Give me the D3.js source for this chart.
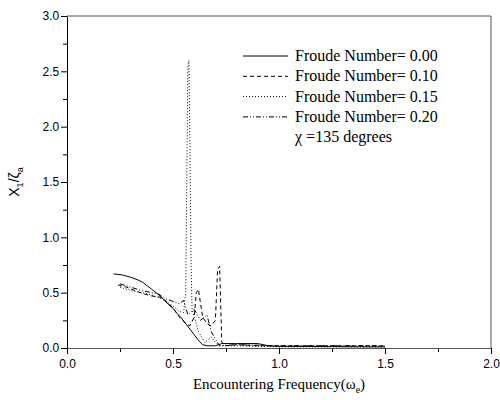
<!DOCTYPE html>
<html>
<head>
<meta charset="utf-8">
<script src="https://cdn.jsdelivr.net/npm/d3@7"></script>
<style>
  body { margin: 0; background: #fff; }
  text { fill: #000; }
</style>
</head>
<body>
<div id="chart"></div>
<script>
// Froude number series: [frequency, X1/zeta_a]
const fn000 = [[0.22,0.67],[0.26,0.66],[0.30,0.64],[0.34,0.61],[0.36,0.59],[0.38,0.56],[0.40,0.53],[0.42,0.50],[0.44,0.47],[0.46,0.43],[0.48,0.39],[0.50,0.36],[0.52,0.31],[0.54,0.27],[0.56,0.22],[0.58,0.17],[0.60,0.12],[0.62,0.07],[0.64,0.03],[0.66,0.02],[0.70,0.02],[0.73,0.04],[0.80,0.04],[0.90,0.04],[0.95,0.02],[1.0,0.015],[1.5,0.01]];
const fn010 = [[0.24,0.57],[0.28,0.55],[0.32,0.52],[0.36,0.49],[0.40,0.47],[0.44,0.46],[0.47,0.42],[0.50,0.36],[0.53,0.28],[0.56,0.22],[0.58,0.20],[0.60,0.28],[0.61,0.50],[0.62,0.53],[0.63,0.40],[0.64,0.28],[0.66,0.22],[0.68,0.20],[0.70,0.25],[0.71,0.70],[0.72,0.74],[0.725,0.40],[0.73,0.05],[0.75,0.02],[0.80,0.03],[0.90,0.02],[1.0,0.02],[1.5,0.02]];
const fn015 = [[0.25,0.55],[0.30,0.52],[0.35,0.50],[0.40,0.48],[0.45,0.44],[0.50,0.38],[0.53,0.33],[0.55,0.32],[0.56,0.5],[0.565,1.5],[0.57,2.55],[0.575,2.6],[0.58,1.8],[0.585,0.8],[0.59,0.35],[0.62,0.15],[0.65,0.05],[0.68,0.10],[0.70,0.05],[0.72,0.02],[0.80,0.02],[1.0,0.01],[1.5,0.01]];
const fn020 = [[0.25,0.58],[0.30,0.55],[0.35,0.52],[0.40,0.50],[0.43,0.49],[0.46,0.45],[0.50,0.42],[0.53,0.40],[0.55,0.43],[0.57,0.30],[0.60,0.35],[0.63,0.25],[0.66,0.30],[0.68,0.15],[0.70,0.08],[0.72,0.02],[0.80,0.03],[1.0,0.02],[1.5,0.02]];

const seriesNames = ["Froude Number= 0.00", "Froude Number= 0.10", "Froude Number= 0.15", "Froude Number= 0.20"];
const seriesDash = [null, "4,3", "1,2", "5,2,1,2,1,2"];
const xTicks = [0, 0.5, 1.0, 1.5, 2.0];
const yTicks = [0, 0.5, 1.0, 1.5, 2.0, 2.5, 3.0];

const SERIF = "'Times New Roman', 'Liberation Serif', 'DejaVu Serif', 'Noto Serif', serif";

const width = 500, height = 400;
const margin = { top: 16, right: 9, bottom: 52, left: 67 };

const svg = d3.select("#chart").append("svg")
  .attr("width", width).attr("height", height);

const x = d3.scaleLinear().domain([0, 2]).range([margin.left, width - margin.right]);
const y = d3.scaleLinear().domain([0, 3]).range([height - margin.bottom, margin.top]);

// frame
svg.append("line").attr("x1", x(0)).attr("x2", x(2)).attr("y1", y(3)).attr("y2", y(3)).attr("stroke", "#555");
svg.append("line").attr("x1", x(2)).attr("x2", x(2)).attr("y1", y(3)).attr("y2", y(0)).attr("stroke", "#555");

// axes with minor ticks
const xMinor = d3.axisBottom(x).tickValues(d3.range(0.25, 2, 0.5)).tickSize(4).tickFormat("");
svg.append("g").attr("transform", `translate(0,${y(0)})`).call(xMinor)
  .call(g => g.select(".domain").remove());
const xAxis = svg.append("g").attr("transform", `translate(0,${y(0)})`)
  .call(d3.axisBottom(x).tickValues(xTicks).tickSize(6).tickSizeOuter(0).tickFormat(d3.format(".1f")));
xAxis.select(".domain").attr("stroke", "#555");
xAxis.selectAll("text").attr("font-family", "Liberation Sans, Arial").attr("font-size", 12).attr("dy", "0.9em");

const yMinor = d3.axisLeft(y).tickValues(d3.range(0.25, 3, 0.5)).tickSize(4).tickFormat("");
svg.append("g").attr("transform", `translate(${x(0)},0)`).call(yMinor)
  .call(g => g.select(".domain").remove());
const yAxis = svg.append("g").attr("transform", `translate(${x(0)},0)`)
  .call(d3.axisLeft(y).tickValues(yTicks).tickSize(6).tickSizeOuter(0).tickFormat(d3.format(".1f")));
yAxis.selectAll("text").attr("font-family", "Liberation Sans, Arial").attr("font-size", 12).attr("dx", "0.1em");

// curves
const line = d3.line().x(d => x(d[0])).y(d => y(d[1]));
[fn000, fn010, fn015, fn020].forEach((data, i) => {
  svg.append("path").datum(data)
    .attr("d", line)
    .attr("fill", "none")
    .attr("stroke", "#000")
    .attr("stroke-width", 1)
    .attr("stroke-dasharray", seriesDash[i]);
});

// legend
seriesNames.forEach((name, i) => {
  const ly = 56 + i * 20.3;
  svg.append("line").attr("x1", 243).attr("x2", 288).attr("y1", ly).attr("y2", ly)
    .attr("stroke", "#000").attr("stroke-dasharray", seriesDash[i]);
  svg.append("text").attr("x", 295).attr("y", ly + 5)
    .style("font-family", SERIF).style("font-size", "16px")
    .text(name);
});
svg.append("text").attr("x", 295).attr("y", 142)
  .style("font-family", SERIF).style("font-size", "16px")
  .text("χ =135 degrees");

// axis titles
svg.append("text")
  .attr("x", x(1)).attr("y", 389)
  .attr("text-anchor", "middle")
  .style("font-family", SERIF).style("font-size", "15px")
  .html('Encountering Frequency(ω<tspan font-size="10" dy="4">e</tspan><tspan dy="-4">)</tspan>');

svg.append("text")
  .attr("transform", `translate(19,${y(1.5)}) rotate(-90)`)
  .attr("text-anchor", "middle")
  .attr("font-family", "Liberation Sans, Arial").attr("font-size", 14)
  .html('X<tspan font-size="9" dy="4">1</tspan><tspan dy="-4">/ζ</tspan><tspan font-size="9" dy="4">a</tspan>');
</script>
</body>
</html>
